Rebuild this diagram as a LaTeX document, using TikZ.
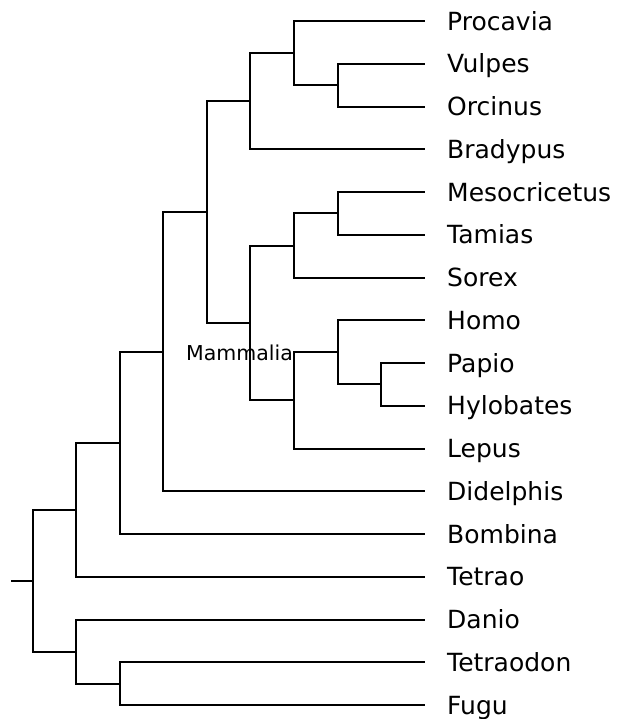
\documentclass[tikz,border=0pt]{standalone}
\usepackage{fontspec}
\setmainfont{DejaVu Sans}
\begin{document}
\begin{tikzpicture}[x=1pt,y=-1pt,
  edge/.style={line width=2pt},
  leaf/.style={anchor=base west, inner sep=0pt, font=\fontsize{25}{30}\selectfont},
  clade/.style={anchor=base east, inner sep=0pt, font=\fontsize{20.5}{24}\selectfont}]
\useasboundingbox (0,0) rectangle (617,719);
% leaf tips
\coordinate (t0) at (425,21);
\coordinate (t1) at (425,64);
\coordinate (t2) at (425,107);
\coordinate (t3) at (425,149);
\coordinate (t4) at (425,192);
\coordinate (t5) at (425,235);
\coordinate (t6) at (425,278);
\coordinate (t7) at (425,320);
\coordinate (t8) at (425,363);
\coordinate (t9) at (425,406);
\coordinate (t10) at (425,449);
\coordinate (t11) at (425,491);
\coordinate (t12) at (425,534);
\coordinate (t13) at (425,577);
\coordinate (t14) at (425,620);
\coordinate (t15) at (425,662);
\coordinate (t16) at (425,705);
% leaf labels
\node[leaf] (l0) at (447,30.2) {Procavia};
\node[leaf] (l1) at (447,72.95) {Vulpes};
\node[leaf] (l2) at (447,115.7) {Orcinus};
\node[leaf] (l3) at (447,158.45) {Bradypus};
\node[leaf] (l4) at (447,201.2) {Mesocricetus};
\node[leaf] (l5) at (447,243.95) {Tamias};
\node[leaf] (l6) at (447,286.7) {Sorex};
\node[leaf] (l7) at (447,329.45) {Homo};
\node[leaf] (l8) at (447,372.2) {Papio};
\node[leaf] (l9) at (447,414.95) {Hylobates};
\node[leaf] (l10) at (447,457.7) {Lepus};
\node[leaf] (l11) at (447,500.45) {Didelphis};
\node[leaf] (l12) at (447,543.2) {Bombina};
\node[leaf] (l13) at (447,585.95) {Tetrao};
\node[leaf] (l14) at (447,628.7) {Danio};
\node[leaf] (l15) at (447,671.45) {Tetraodon};
\node[leaf] (l16) at (447,714.2) {Fugu};
% internal nodes
\coordinate (N) at (381,384);
\coordinate (M) at (338,352);
\coordinate (K) at (294,400);
\coordinate (L) at (338,213);
\coordinate (J) at (294,246);
\coordinate (G) at (250,323);
\coordinate (I) at (338,85);
\coordinate (H) at (294,53);
\coordinate (F) at (250,101);
\coordinate (E) at (207,212);
\coordinate (D) at (163,352);
\coordinate (C) at (120,443);
\coordinate (A) at (76,510);
\coordinate (O) at (120,684);
\coordinate (B) at (76,652);
\coordinate (R) at (33,581);
\coordinate (stub) at (11,581);
% edges
\draw[edge] (stub) -- (R);
\draw[edge] (R) |- (A);
\draw[edge] (R) |- (B);
\draw[edge] (A) |- (C);
\draw[edge] (A) |- (t13);
\draw[edge] (C) |- (D);
\draw[edge] (C) |- (t12);
\draw[edge] (D) |- (E);
\draw[edge] (D) |- (t11);
\draw[edge] (E) |- (F);
\draw[edge] (E) |- (G);
\draw[edge] (F) |- (H);
\draw[edge] (F) |- (t3);
\draw[edge] (H) |- (t0);
\draw[edge] (H) |- (I);
\draw[edge] (I) |- (t1);
\draw[edge] (I) |- (t2);
\draw[edge] (G) |- (J);
\draw[edge] (G) |- (K);
\draw[edge] (J) |- (L);
\draw[edge] (J) |- (t6);
\draw[edge] (L) |- (t4);
\draw[edge] (L) |- (t5);
\draw[edge] (K) |- (M);
\draw[edge] (K) |- (t10);
\draw[edge] (M) |- (t7);
\draw[edge] (M) |- (N);
\draw[edge] (N) |- (t8);
\draw[edge] (N) |- (t9);
\draw[edge] (B) |- (t14);
\draw[edge] (B) |- (O);
\draw[edge] (O) |- (t15);
\draw[edge] (O) |- (t16);
% clade label
\node[clade] (mammalia) at (293,360.7) {Mammalia};
\end{tikzpicture}
\end{document}
